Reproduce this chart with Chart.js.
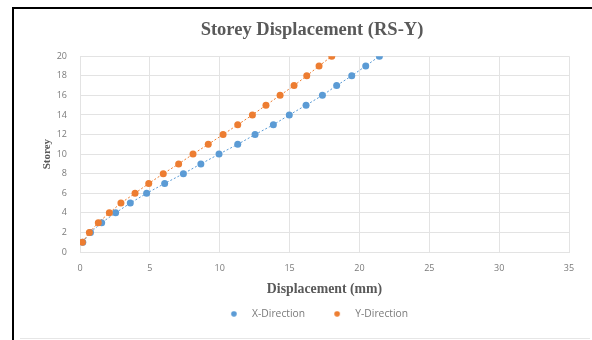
<!DOCTYPE html>
<html>
<head>
<meta charset="utf-8">
<script src="https://cdn.jsdelivr.net/npm/chart.js@4/dist/chart.umd.min.js"></script>
<style>
  html, body { margin: 0; padding: 0; background: #fff; }
  body { width: 592px; height: 340px; position: relative; overflow: hidden; }
  .frame {
    position: absolute; left: 12px; top: 7px; width: 590px; height: 340px;
    border-top: 2px solid #000; border-left: 2px solid #000;
  }
  .baseline {
    position: absolute; left: 20px; top: 338px; width: 570px; height: 1px; background: #e6e6e6;
  }
  #wrap { position: absolute; left: 15px; top: 10px; width: 577px; height: 328px; }
</style>
</head>
<body>
<div class="frame"></div>
<div class="baseline"></div>
<div id="wrap"><canvas id="chart"></canvas></div>
<script>
// storey levels and displacement (mm)
const storeys = [1, 2, 3, 4, 5, 6, 7, 8, 9, 10, 11, 12, 13, 14, 15, 16, 17, 18, 19, 20];
const xDirection = [0.2, 0.75, 1.55, 2.55, 3.6, 4.77, 6.06, 7.4, 8.65, 9.95, 11.29, 12.53, 13.84, 14.98, 16.18, 17.35, 18.37, 19.45, 20.45, 21.43];
const yDirection = [0.17, 0.67, 1.31, 2.1, 2.93, 3.94, 4.92, 5.96, 7.06, 8.09, 9.18, 10.24, 11.29, 12.34, 13.31, 14.32, 15.32, 16.23, 17.11, 18.02];
const xTicks = [0, 5, 10, 15, 20, 25, 30, 35];
const yTicks = [0, 2, 4, 6, 8, 10, 12, 14, 16, 18, 20];

const BLUE = '#5b9bd5';
const ORANGE = '#ed7d31';
const GRID = '#e3e3e3';
const TEXT = '#7a7a7a';

function toPoints(values) {
    return values.map((v, i) => ({ x: v, y: storeys[i] }));
}

// legend marker: small dot inside a wider transparent box, to space it like the original
function legendDot(color) {
    const c = document.createElement('canvas');
    c.width = 31;
    c.height = 6;
    const g = c.getContext('2d');
    g.fillStyle = color;
    g.beginPath();
    g.arc(18, 3, 2.8, 0, Math.PI * 2);
    g.fill();
    return c;
}
const legendDots = [legendDot(BLUE), legendDot(ORANGE)];

const ctx = document.getElementById('chart').getContext('2d');
new Chart(ctx, {
    type: 'scatter',
    data: {
        datasets: [{
            label: 'X-Direction',
            data: toPoints(xDirection),
            showLine: true,
            borderColor: BLUE,
            backgroundColor: BLUE,
            borderWidth: 1,
            borderDash: [2, 2],
            pointRadius: 3.5,
            pointBorderWidth: 0,
            order: 2
        }, {
            label: 'Y-Direction',
            data: toPoints(yDirection),
            showLine: true,
            borderColor: ORANGE,
            backgroundColor: ORANGE,
            borderWidth: 1,
            borderDash: [2, 2],
            pointRadius: 3.5,
            pointBorderWidth: 0,
            order: 1
        }]
    },
    options: {
        responsive: true,
        maintainAspectRatio: false,
        animation: false,
        layout: { padding: { left: 40, right: 23, top: 0, bottom: 9 } },
        plugins: {
            title: {
                display: true,
                text: 'Storey Displacement (RS-Y)',
                color: '#595959',
                font: { family: 'Liberation Serif', size: 18.5, weight: 'bold' },
                padding: { top: 9, bottom: 15 }
            },
            legend: {
                position: 'bottom',
                labels: {
                    usePointStyle: true,
                    pointStyleWidth: 31,
                    boxHeight: 4,
                    padding: 14,
                    color: TEXT,
                    font: { family: 'Open Sans', size: 10.3 },
                    generateLabels: (chart) => Chart.defaults.plugins.legend.labels.generateLabels(chart)
                        .map(item => ({ ...item, pointStyle: legendDots[item.datasetIndex] })),
                    sort: (a, b) => a.datasetIndex - b.datasetIndex
                }
            },
            tooltip: { enabled: false }
        },
        scales: {
            x: {
                type: 'linear',
                min: 0,
                max: 35,
                afterBuildTicks: (scale) => { scale.ticks = xTicks.map(v => ({ value: v })); },
                grid: { color: GRID, drawTicks: false },
                border: { color: GRID },
                ticks: { color: TEXT, font: { family: 'Open Sans', size: 9 }, padding: 11 },
                title: {
                    display: true,
                    text: 'Displacement (mm)',
                    color: '#595959',
                    font: { family: 'Liberation Serif', size: 13.8, weight: 'bold' },
                    padding: { top: -4, bottom: -2.7 }
                }
            },
            y: {
                type: 'linear',
                min: 0,
                max: 20,
                afterBuildTicks: (scale) => { scale.ticks = yTicks.map(v => ({ value: v })); },
                afterFit: (scale) => { scale.width = 25; },
                grid: { color: GRID, drawTicks: false },
                border: { color: GRID },
                ticks: { color: TEXT, font: { family: 'Open Sans', size: 9 }, padding: 13 },
                title: {
                    display: true,
                    text: 'Storey',
                    color: '#595959',
                    font: { family: 'Liberation Serif', size: 11, weight: 'bold' },
                    padding: { top: -14.6, bottom: 0 }
                }
            }
        }
    }
});
</script>
</body>
</html>
